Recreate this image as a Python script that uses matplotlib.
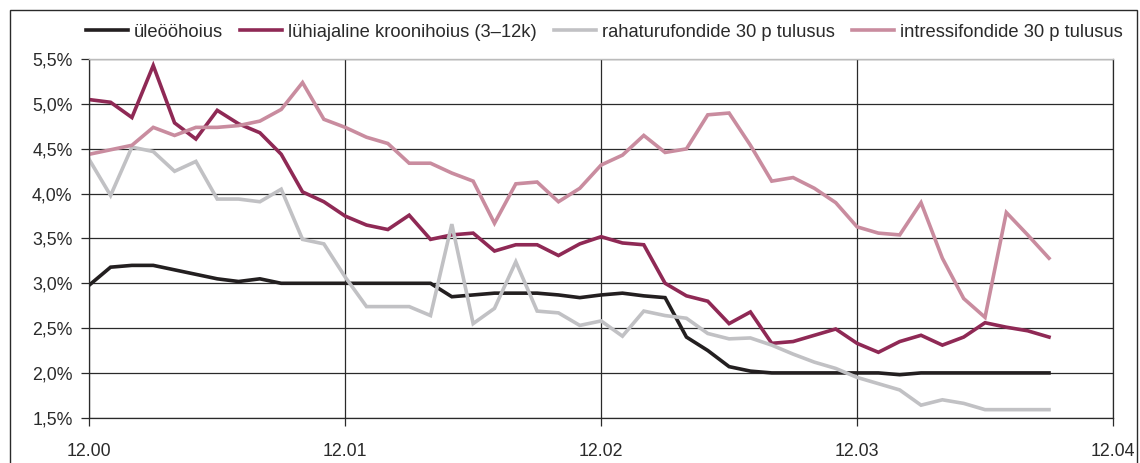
import matplotlib.pyplot as plt
import numpy as np
from matplotlib.patches import Rectangle

plt.rcParams['font.family'] = ['Liberation Sans', 'DejaVu Sans']

# weekly observations, 12 per tick interval
x_ticks = [0, 12, 24, 36, 48]
x_labels = ['12.00', '12.01', '12.02', '12.03', '12.04']
y_ticks = [1.5, 2.0, 2.5, 3.0, 3.5, 4.0, 4.5, 5.0, 5.5]

uleoo = [2.98, 3.18, 3.20, 3.20, 3.15, 3.10, 3.05, 3.02, 3.05, 3.00,
         3.00, 3.00, 3.00, 3.00, 3.00, 3.00, 3.00, 2.85, 2.87, 2.89,
         2.89, 2.89, 2.87, 2.84, 2.87, 2.89, 2.86, 2.84, 2.40, 2.25,
         2.07, 2.02, 2.00, 2.00, 2.00, 2.00, 2.00, 2.00, 1.98, 2.00,
         2.00, 2.00, 2.00, 2.00, 2.00, 2.00]
luhiajaline = [5.05, 5.02, 4.85, 5.43, 4.79, 4.61, 4.93, 4.78, 4.68, 4.44,
               4.02, 3.91, 3.75, 3.65, 3.60, 3.76, 3.49, 3.54, 3.56, 3.36,
               3.43, 3.43, 3.31, 3.44, 3.52, 3.45, 3.43, 3.00, 2.86, 2.80,
               2.55, 2.68, 2.33, 2.35, 2.42, 2.49, 2.33, 2.23, 2.35, 2.42,
               2.31, 2.40, 2.56, 2.51, 2.47, 2.40]
rahaturu = [4.38, 3.98, 4.52, 4.47, 4.25, 4.36, 3.94, 3.94, 3.91, 4.05,
            3.49, 3.44, 3.07, 2.74, 2.74, 2.74, 2.64, 3.66, 2.55, 2.72,
            3.24, 2.69, 2.67, 2.53, 2.58, 2.41, 2.69, 2.64, 2.61, 2.44,
            2.38, 2.39, 2.31, 2.21, 2.12, 2.05, 1.95, 1.88, 1.81, 1.64,
            1.70, 1.66, 1.59, 1.59, 1.59, 1.59]
intressi = [4.44, 4.49, 4.54, 4.74, 4.65, 4.74, 4.74, 4.76, 4.81, 4.94,
            5.24, 4.83, 4.74, 4.63, 4.56, 4.34, 4.34, 4.23, 4.14, 3.67,
            4.11, 4.13, 3.91, 4.06, 4.32, 4.43, 4.65, 4.46, 4.50, 4.88,
            4.90, 4.54, 4.14, 4.18, 4.06, 3.90, 3.63, 3.56, 3.54, 3.90,
            3.28, 2.83, 2.62, 3.79, 3.54, 3.28]

series = [
    ('üleööhoius', uleoo, '#231f20'),
    ('lühiajaline kroonihoius (3–12k)', luhiajaline, '#8f2955'),
    ('rahaturufondide 30 p tulusus', rahaturu, '#c1c1c4'),
    ('intressifondide 30 p tulusus', intressi, '#c98c9f'),
]

fig = plt.figure(figsize=(11.4, 4.63), dpi=100)
ax = fig.add_axes([0.0783, 0.0978, 0.8980, 0.7742])

x = np.arange(len(uleoo))
for label, vals, color in series:
    ax.plot(x, vals, color=color, lw=2.6, label=label, solid_joinstyle='miter')

ax.set_xlim(0, 48)
ax.set_ylim(1.5, 5.5)
ax.set_xticks(x_ticks)
ax.set_xticklabels(x_labels)
ax.set_yticks(y_ticks)
ax.set_yticklabels([f'{v:.1f}%'.replace('.', ',') for v in y_ticks])
ax.grid(True, color='#2a2a2a', lw=0.9)
ax.set_axisbelow(True)
ax.tick_params(axis='both', length=6, width=0.9, color='#2a2a2a',
               labelsize=12.8, labelcolor='#2a2a2a')
ax.tick_params(axis='x', pad=12)
ax.tick_params(axis='y', pad=6)
for side in ['left', 'bottom', 'right']:
    ax.spines[side].set_color('#2a2a2a')
    ax.spines[side].set_linewidth(0.9)
ax.spines['top'].set_color('#bbbbbb')
ax.spines['top'].set_linewidth(1.0)

fig.legend(loc='center', bbox_to_anchor=(0.530, 0.930), ncol=4, frameon=False,
           fontsize=13.2, handlelength=2.3, handletextpad=0.35, columnspacing=0.9,
           labelcolor='#2a2a2a')

# outer frame
fig.patches.append(Rectangle((10 / 1140, -0.05), 1127 / 1140, 1.05 - 10 / 463,
                             transform=fig.transFigure, fill=False,
                             edgecolor='#2a2a2a', lw=1.0))

fig.savefig('out.png', dpi=100)
